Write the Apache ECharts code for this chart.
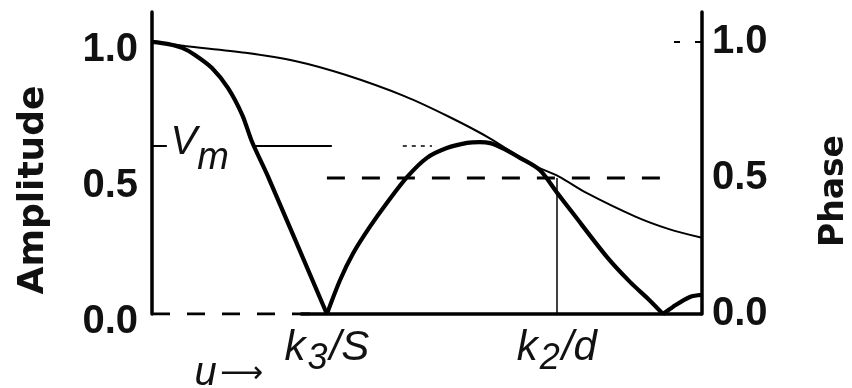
<!DOCTYPE html>
<html>
<head>
<meta charset="utf-8">
<script src="https://cdn.jsdelivr.net/npm/echarts@6/dist/echarts.min.js"></script>
<style>
  html, body { margin: 0; padding: 0; background: #fff; }
  #chart { width: 852px; height: 388px; }
</style>
</head>
<body>
<div id="chart"></div>
<script>
// Spatial frequency u runs over 0..1 across the plot.
const kS = 0.318;      // k3/S : first zero of the fringe amplitude
const kD = 0.736;      // k2/d
const vm = 0.62;       // V_m level
const yTicks = [0, 0.5, 1.0];

// Envelope of a single aperture (thin curve)
const envU = [0, 0.06, 0.17, 0.26, 0.35, 0.46, 0.54, 0.615, 0.69, 0.74, 0.79, 0.88, 0.94, 1.0];
const envV = [1.0, 0.985, 0.96, 0.93, 0.88, 0.80, 0.725, 0.645, 0.55, 0.505, 0.445, 0.357, 0.312, 0.28];

// Fringe amplitude (thick curve), one pair of arrays per lobe between zeros
const lobe1U = [0, 0.03, 0.055, 0.078, 0.109, 0.138, 0.164, 0.182, 0.211, 0.318];
const lobe1V = [1.0, 0.992, 0.978, 0.952, 0.904, 0.831, 0.732, 0.632, 0.505, 0];
const lobe2U = [0.318, 0.342, 0.366, 0.396, 0.427, 0.464, 0.5, 0.536, 0.573, 0.596, 0.615, 0.64, 0.669, 0.705, 0.736, 0.765, 0.827, 0.869, 0.905, 0.929];
const lobe2V = [0, 0.125, 0.224, 0.32, 0.408, 0.504, 0.574, 0.61, 0.629, 0.632, 0.628, 0.607, 0.574, 0.529, 0.447, 0.371, 0.21, 0.118, 0.05, 0];
const lobe3U = [0.929, 0.947, 0.978, 1.0];
const lobe3V = [0, 0.026, 0.0625, 0.07];

// Phase: 0 below k3/S, 0.5 above it
const phaseU = [0, kS, kS, kS, 0.947];
const phaseV = [0, 0, null, 0.5, 0.5];

const pairs = (xs, ys) => xs.map((x, i) => [x, ys[i]]);

const INK = '#111';
const numFont = { fontFamily: 'Liberation Sans', fontWeight: 'bold', fontSize: 40, color: INK };
const ital = { fontFamily: 'Liberation Sans', fontStyle: 'italic', color: INK };

const thick = (name, xs, ys) => ({
  name, type: 'line', data: pairs(xs, ys), showSymbol: false, smooth: 0.3, z: 4,
  lineStyle: { color: '#000', width: 4.2 }
});

const chart = echarts.init(document.getElementById('chart'), null, { renderer: 'canvas' });

chart.setOption({
  animation: false,
  backgroundColor: '#fff',
  grid: { left: 152, right: 150, top: 12, bottom: 74, outerBoundsMode: 'none', containLabel: false },
  xAxis: {
    type: 'value', min: 0, max: 1,
    axisLine: { show: false }, axisTick: { show: false }, splitLine: { show: false },
    axisLabel: {
      customValues: [kS, kD], margin: 13,
      formatter: v => Math.abs(v - kS) < 1e-6 ? '{k|k}{s|3}{k|/S}' : '{k|k}{s|2}{k|/d}',
      rich: {
        k: Object.assign({ fontSize: 42, verticalAlign: 'top' }, ital),
        s: Object.assign({ fontSize: 36, padding: [14, 2, 0, 2], verticalAlign: 'top' }, ital)
      }
    },
    name: '{u|u} {a|⟶}', nameLocation: 'start', nameGap: -111,
    nameTextStyle: {
      align: 'right', verticalAlign: 'top', padding: [40, 0, 0, 0],
      rich: {
        u: Object.assign({ fontSize: 40 }, ital),
        a: { fontFamily: 'DejaVu Sans', fontSize: 30, color: INK }
      }
    }
  },
  yAxis: [
    {
      type: 'value', min: 0, max: 1.11, position: 'left',
      axisLine: { show: true, lineStyle: { color: '#000', width: 3.5 } },
      axisTick: { show: false }, splitLine: { show: false },
      axisLabel: {
        customValues: yTicks, margin: 14,
        formatter: v => '{n|' + v.toFixed(1) + '}',
        rich: { n: Object.assign({ padding: [16, 0, 0, 0] }, numFont) }
      },
      name: 'Amplitude', nameLocation: 'middle', nameRotate: 90, nameGap: 100,
      nameTextStyle: { fontFamily: 'DejaVu Sans', fontWeight: 'bold', fontSize: 36, color: INK, padding: [0, 54, 0, 0] }
    },
    {
      type: 'value', min: 0, max: 1.11, position: 'right',
      axisLine: { show: true, lineStyle: { color: '#000', width: 3.5 } },
      axisTick: { show: true, inside: true, length: 28, customValues: [1.0], lineStyle: { color: '#000', width: 2, type: [7, 15] } },
      splitLine: { show: false },
      axisLabel: Object.assign({ customValues: yTicks, formatter: v => v.toFixed(1), margin: 10 }, numFont),
      name: 'Phase', nameLocation: 'middle', nameRotate: 90, nameGap: 116,
      nameTextStyle: { fontFamily: 'DejaVu Sans', fontWeight: 'bold', fontSize: 33, color: INK, padding: [0, 56, 0, 0] }
    }
  ],
  series: [
    {
      name: 'envelope', type: 'line', data: pairs(envU, envV), showSymbol: false, smooth: 0.3, z: 3,
      lineStyle: { color: '#000', width: 2 },
      markLine: {
        silent: true, symbol: ['none', 'none'], z: 2, label: { show: false },
        lineStyle: { color: '#000', width: 2, type: 'solid' },
        data: [
          [{ coord: [0, vm] }, { coord: [0.027, vm] }],
          [{ coord: [0.182, vm] }, { coord: [0.327, vm] }],
          [{ coord: [0.456, vm], lineStyle: { type: [4, 5], width: 1.5 } }, { coord: [0.509, vm] }],
          [{ coord: [0.27, 0], lineStyle: { width: 3.5 } }, { coord: [1, 0] }],
          [{ coord: [kD, 0], lineStyle: { width: 1.5 } }, { coord: [kD, 0.5] }]
        ]
      },
      markPoint: {
        silent: true, symbol: 'circle', symbolSize: 0, z: 3,
        data: [{ coord: [0.03, vm] }],
        label: {
          show: true, position: 'right', distance: 2, offset: [0, 5],
          formatter: '{V|V}{m|m}',
          rich: {
            V: Object.assign({ fontSize: 40, verticalAlign: 'top' }, ital),
            m: Object.assign({ fontSize: 38, padding: [16, 0, 0, 0], verticalAlign: 'top' }, ital)
          }
        }
      }
    },
    thick('amplitude', lobe1U, lobe1V),
    thick('amplitude', lobe2U, lobe2V),
    thick('amplitude', lobe3U, lobe3V),
    {
      name: 'phase', type: 'line', yAxisIndex: 1, data: pairs(phaseU, phaseV), showSymbol: false,
      connectNulls: false, z: 2,
      lineStyle: { color: '#000', width: 3, type: [18, 17] }
    }
  ]
});
</script>
</body>
</html>
